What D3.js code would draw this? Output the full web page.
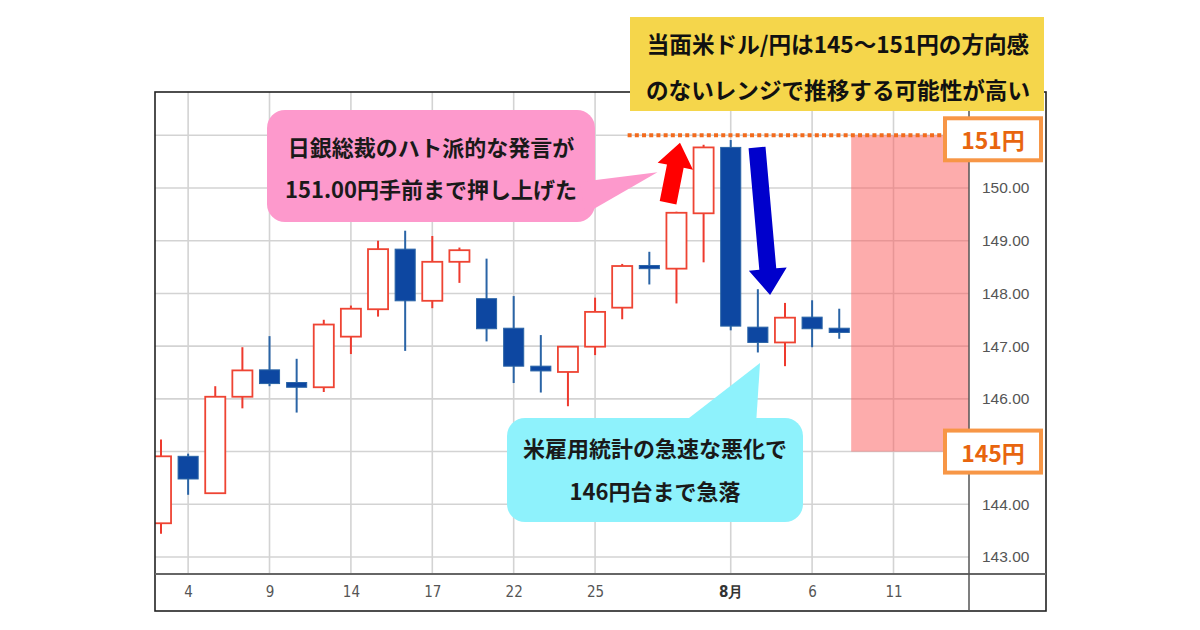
<!DOCTYPE html>
<html><head><meta charset="utf-8">
<script src="https://cdn.jsdelivr.net/npm/d3@7"></script>
<style>body{margin:0;background:#fff;overflow:hidden}</style>
</head><body><svg id="c" width="1200" height="630" xmlns="http://www.w3.org/2000/svg"></svg>
<script>
// ---- data (USD/JPY daily, Jul 3 – Aug 7) ----
const dates = ["7/3","7/4","7/7","7/8","7/9","7/10","7/11","7/14","7/15","7/16","7/17","7/18","7/21","7/22","7/23","7/24","7/25","7/28","7/29","7/30","7/31","8/1","8/4","8/5","8/6","8/7"];
const futureDates = ["8/8","8/11","8/12","8/13"];
const openV  = [143.64,144.91,144.21,146.04,146.55,146.31,146.22,147.18,147.70,148.84,147.86,148.60,147.90,147.34,146.62,146.51,146.99,147.73,148.53,148.47,149.52,150.77,147.36,147.07,147.55,147.34];
const highV  = [145.23,144.96,146.24,146.98,147.19,146.76,147.50,147.77,149.00,149.19,149.09,148.87,148.66,147.95,147.21,146.99,147.92,148.56,148.79,149.55,150.82,150.91,148.08,147.82,147.87,147.71];
const lowV   = [143.44,144.18,144.20,145.82,146.24,145.74,146.13,146.85,147.56,146.91,147.72,148.20,147.09,146.30,146.12,145.86,146.83,147.51,148.17,147.81,148.59,147.30,146.88,146.62,146.98,147.14];
const closeV = [144.91,144.48,146.04,146.54,146.29,146.22,147.41,147.71,148.84,147.86,148.60,148.82,147.33,146.62,146.53,146.99,147.65,148.52,148.47,149.53,150.77,147.38,147.07,147.54,147.33,147.26];
const tickDates  = ["7/4","7/9","7/14","7/17","7/22","7/25","8/1","8/6","8/11"];
const tickLabels = ["4","9","14","17","22","25","8月","6","11"];
const yGrid = [143,144,145,146,147,148,149,150,151];
const yTickLabels = [143,144,146,147,148,149,150]; // 145 and 151 are covered by the level boxes
const rangeLow = 145, rangeHigh = 151, rangeStart = "8/7";
const bojPeak = 151;
const titleLines = ["当面米ドル/円は145～151円の方向感","のないレンジで推移する可能性が高い"];
const bojLines = ["日銀総裁のハト派的な発言が","151.00円手前まで押し上げた"];
const nfpLines = ["米雇用統計の急速な悪化で","146円台まで急落"];
const levelLabels = ["151円","145円"];

const allDates = dates.concat(futureDates);
const idx = d => allDates.indexOf(d);

// ---- layout ----
const L = 155, R = 969, T = 92, B = 574, FR = 1046, FB = 611;
const svg = d3.select("#c");
const x = d3.scaleLinear().domain([0, 27]).range([161, 893.5]);
const y = d3.scaleLinear().domain([143, 150]).range([557, 188]);
const step = x(1) - x(0);
const cw = step * 0.74;
const CJK = "'Noto Sans CJK JP','Noto Sans',sans-serif";

svg.append("defs").append("clipPath").attr("id","plot")
  .append("rect").attr("x",L).attr("y",T).attr("width",R-L).attr("height",B-T);

// grid
const grid = svg.append("g").attr("stroke","#d3d3d3").attr("stroke-width",1.6);
grid.selectAll("line.v").data(tickDates).join("line").attr("class","v")
  .attr("x1",d=>x(idx(d))).attr("x2",d=>x(idx(d))).attr("y1",T).attr("y2",B);
grid.selectAll("line.h").data(yGrid).join("line").attr("class","h")
  .attr("x1",L).attr("x2",R).attr("y1",d=>y(d)).attr("y2",d=>y(d));

// expected range band
svg.append("rect")
  .attr("x", x(idx(rangeStart)+0.44)).attr("width", R - x(idx(rangeStart)+0.44))
  .attr("y", y(rangeHigh)).attr("height", y(rangeLow)-y(rangeHigh))
  .attr("fill","#fb5a5a").attr("fill-opacity",0.5);

// candles
const candles = dates.map((d,i)=>({d,i,o:openV[i],h:highV[i],l:lowV[i],c:closeV[i]}));
const cg = svg.append("g").attr("clip-path","url(#plot)");
const g = cg.selectAll("g").data(candles).join("g");
g.append("line")
  .attr("x1",d=>x(d.i)).attr("x2",d=>x(d.i))
  .attr("y1",d=>y(d.h)).attr("y2",d=>y(d.l))
  .attr("stroke",d=>d.c>=d.o?"#ee3a2e":"#2a64a6").attr("stroke-width",2);
g.append("rect")
  .attr("x",d=>x(d.i)-cw/2).attr("width",cw)
  .attr("y",d=>y(Math.max(d.o,d.c)))
  .attr("height",d=>Math.max(2,Math.abs(y(d.o)-y(d.c))))
  .attr("fill",d=>d.c>=d.o?"#ffffff":"#0d47a1")
  .attr("stroke",d=>d.c>=d.o?"#ee4433":"#2a64a6")
  .attr("stroke-width",d=>d.c>=d.o?1.8:1);

// frame
svg.append("rect").attr("x",L).attr("y",T).attr("width",FR-L).attr("height",FB-T)
  .attr("fill","none").attr("stroke","#222").attr("stroke-width",1.6);
svg.append("line").attr("x1",L).attr("x2",FR).attr("y1",B).attr("y2",B).attr("stroke","#666").attr("stroke-width",1.8);
svg.append("line").attr("x1",R).attr("x2",R).attr("y1",T).attr("y2",FB).attr("stroke","#555").attr("stroke-width",1.5);

// axes
const ya = svg.append("g").attr("transform",`translate(${R},0)`)
  .call(d3.axisRight(y).tickValues(yTickLabels).tickFormat(d3.format(".2f")).tickSize(0).tickPadding(13));
ya.select(".domain").remove();
ya.selectAll("text").attr("font-family","'Liberation Sans',Arial,sans-serif").attr("font-size",15.5).attr("fill","#555");

const xa = svg.append("g").attr("transform",`translate(0,${B})`)
  .call(d3.axisBottom(x).tickValues(tickDates.map(idx)).tickFormat((d,i)=>tickLabels[i]).tickSize(0).tickPadding(12));
xa.select(".domain").remove();
xa.selectAll("text").attr("font-family","'Liberation Sans Narrow','DejaVu Sans Condensed',sans-serif")
  .attr("font-size",15).attr("fill",(d,i)=>tickLabels[i].includes("月")?"#333":"#555")
  .attr("font-weight",(d,i)=>tickLabels[i].includes("月")?"bold":"normal");

// dotted 151 line
svg.append("line").attr("x1",x(17.2)).attr("x2",943).attr("y1",y(bojPeak)).attr("y2",y(bojPeak))
  .attr("stroke","#f26b1d").attr("stroke-width",4).attr("stroke-dasharray","4 3.2");

// block arrows
function arrow(x1,y1,x2,y2,sw,hw,hl,color){
  const dx=x2-x1, dy=y2-y1, len=Math.hypot(dx,dy), ux=dx/len, uy=dy/len, px=-uy, py=ux;
  const bx=x2-ux*hl, by=y2-uy*hl;
  const pts=[[x1+px*sw/2,y1+py*sw/2],[bx+px*sw/2,by+py*sw/2],[bx+px*hw/2,by+py*hw/2],[x2,y2],
             [bx-px*hw/2,by-py*hw/2],[bx-px*sw/2,by-py*sw/2],[x1-px*sw/2,y1-py*sw/2]];
  svg.append("polygon").attr("points",pts.map(p=>p.join(",")).join(" ")).attr("fill",color);
}
arrow(x(18.69),y(149.72),x(19.13),y(150.86),17,36,24,"#ff0000");
arrow(x(21.97),y(150.77),x(22.45),y(147.97),17,38,26,"#0000cc");

// callouts
function callout(bx,by,bw,bh,r,tail,fill,lines,lineYs){
  const gg=svg.append("g");
  gg.append("rect").attr("x",bx).attr("y",by).attr("width",bw).attr("height",bh).attr("rx",r).attr("fill",fill);
  gg.append("polygon").attr("points",tail.map(p=>p.join(",")).join(" ")).attr("fill",fill);
  gg.selectAll("text").data(lines).join("text")
    .attr("x",bx+bw/2).attr("y",(d,i)=>lineYs[i]).attr("text-anchor","middle").attr("dominant-baseline","central")
    .attr("font-family",CJK).attr("font-weight","bold").attr("font-size",22).attr("fill","#1a1a1a").text(d=>d);
}
callout(267,110,328,112,18,[[580,182],[585,214],[x(18.3),y(150.3)]],"#fd99cc",bojLines,[146,188]);
callout(507,418,296,104,18,[[680,425],[756,425],[x(22.08),y(146.68)]],"#8ef2fc",nfpLines,[447,490]);

// title box
svg.append("rect").attr("x",630).attr("y",17).attr("width",414).attr("height",94).attr("fill","#f5d64b");
svg.selectAll("text.title").data(titleLines).join("text").attr("class","title")
  .attr("x",838).attr("y",(d,i)=>[43,89][i]).attr("text-anchor","middle").attr("dominant-baseline","central")
  .attr("font-family",CJK).attr("font-weight","bold").attr("font-size",22.6).attr("fill","#111").text(d=>d);

// level boxes
const lv = svg.selectAll("g.lv").data([rangeHigh,rangeLow]).join("g").attr("class","lv");
lv.append("rect").attr("x",945).attr("y",d=>y(d)-(d===rangeHigh?17:21)).attr("width",96).attr("height",42)
  .attr("fill","#fff").attr("stroke","#f79646").attr("stroke-width",4);
lv.append("text").attr("x",993).attr("y",d=>y(d)+(d===rangeHigh?4:0)).attr("text-anchor","middle").attr("dominant-baseline","central")
  .attr("font-family",CJK).attr("font-weight","bold").attr("font-size",23).attr("fill","#e8650e")
  .text((d,i)=>levelLabels[i]);
</script></body></html>
